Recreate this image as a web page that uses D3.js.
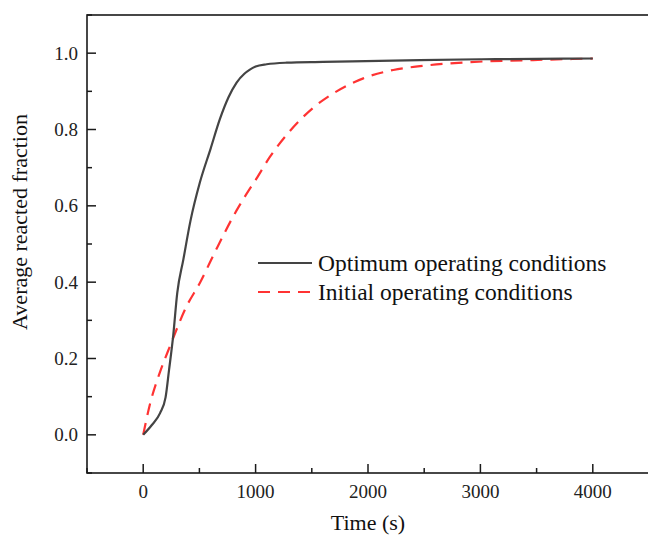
<!DOCTYPE html>
<html><head><meta charset="utf-8">
<script src="https://cdn.jsdelivr.net/npm/d3@7"></script>
<style>html,body{margin:0;padding:0;background:#fff;overflow:hidden}</style>
</head><body>
<svg id="c" width="648" height="537"></svg>
<script>
const optT = [0, 75, 150, 199, 230, 267, 303, 357, 420, 504, 600, 682, 760, 831, 900, 949, 1000, 1098, 1276, 1600, 2462, 3000, 3500, 4000];
const optY = [0, 0.025, 0.057, 0.098, 0.17, 0.26, 0.372, 0.459, 0.56, 0.661, 0.75, 0.827, 0.885, 0.923, 0.946, 0.957, 0.965, 0.971, 0.975, 0.977, 0.982, 0.984, 0.985, 0.986];
const iniT = [0, 60, 150, 238, 386, 504, 645, 831, 902, 1009, 1127, 1305, 1513, 1721, 1958, 2225, 2462, 2877, 3470, 4000];
const iniY = [0, 0.08, 0.165, 0.232, 0.337, 0.398, 0.483, 0.588, 0.623, 0.672, 0.728, 0.796, 0.857, 0.9, 0.934, 0.956, 0.966, 0.976, 0.982, 0.986];
const xTicks = [0, 1000, 2000, 3000, 4000];
const yTicks = [0.0, 0.2, 0.4, 0.6, 0.8, 1.0];
const seriesNames = ["Optimum operating conditions", "Initial operating conditions"];

const svg = d3.select("#c");
const L = 87, R = 649, T = 15, B = 473;
const x = d3.scaleLinear().domain([-500, 4500]).range([L, R]);
const y = d3.scaleLinear().domain([-0.1, 1.1]).range([B, T]);
const font = "'Liberation Serif','Times New Roman',serif";
const axCol = "#1a1a1a";

const g = svg.append("g");
d3.range(-500, 4501, 500).forEach(v => {
  const major = xTicks.includes(v);
  g.append("line").attr("x1", x(v)).attr("x2", x(v)).attr("y1", B).attr("y2", B - (major ? 9 : 5))
    .attr("stroke", axCol).attr("stroke-width", 1.5);
});
d3.range(-1, 12).map(i => i / 10).forEach(v => {
  const major = yTicks.some(t => Math.abs(t - v) < 1e-9);
  g.append("line").attr("y1", y(v)).attr("y2", y(v)).attr("x1", L).attr("x2", L + (major ? 9 : 5))
    .attr("stroke", axCol).attr("stroke-width", 1.5);
});

svg.append("rect").attr("x", L).attr("y", T).attr("width", R - L).attr("height", B - T)
  .attr("fill", "none").attr("stroke", axCol).attr("stroke-width", 1.6);

xTicks.forEach(v => {
  svg.append("text").attr("x", x(v)).attr("y", 498).attr("text-anchor", "middle")
    .attr("font-family", font).attr("font-size", 19).attr("fill", "#222").text(v);
});
yTicks.forEach(v => {
  svg.append("text").attr("x", 78).attr("y", y(v) + 6.5).attr("text-anchor", "end")
    .attr("font-family", font).attr("font-size", 19).attr("fill", "#222").text(v.toFixed(1));
});

svg.append("text").attr("x", 368).attr("y", 530).attr("text-anchor", "middle")
  .attr("font-family", font).attr("font-size", 22).attr("fill", "#111").text("Time (s)");
svg.append("text").attr("transform", "translate(27,222) rotate(-90)").attr("text-anchor", "middle")
  .attr("font-family", font).attr("font-size", 22).attr("fill", "#111").text("Average reacted fraction");

const line = d3.line().x(d => x(d[0])).y(d => y(d[1])).curve(d3.curveMonotoneX);
svg.append("path").datum(iniT.map((t, i) => [t, iniY[i]])).attr("d", line)
  .attr("fill", "none").attr("stroke", "#ff3333").attr("stroke-width", 2.2).attr("stroke-dasharray", "12,8");
svg.append("path").datum(optT.map((t, i) => [t, optY[i]])).attr("d", line)
  .attr("fill", "none").attr("stroke", "#444").attr("stroke-width", 2.2);

const lg = svg.append("g");
lg.append("line").attr("x1", 258).attr("x2", 312).attr("y1", 263).attr("y2", 263)
  .attr("stroke", "#444").attr("stroke-width", 2.2);
lg.append("line").attr("x1", 258).attr("x2", 312).attr("y1", 292).attr("y2", 292)
  .attr("stroke", "#ff3333").attr("stroke-width", 2.2).attr("stroke-dasharray", "12,8");
lg.append("text").attr("x", 318).attr("y", 271).attr("font-family", font).attr("font-size", 23.5)
  .attr("fill", "#111").text(seriesNames[0]);
lg.append("text").attr("x", 318).attr("y", 300).attr("font-family", font).attr("font-size", 23.5)
  .attr("fill", "#111").text(seriesNames[1]);
</script>
</body></html>
